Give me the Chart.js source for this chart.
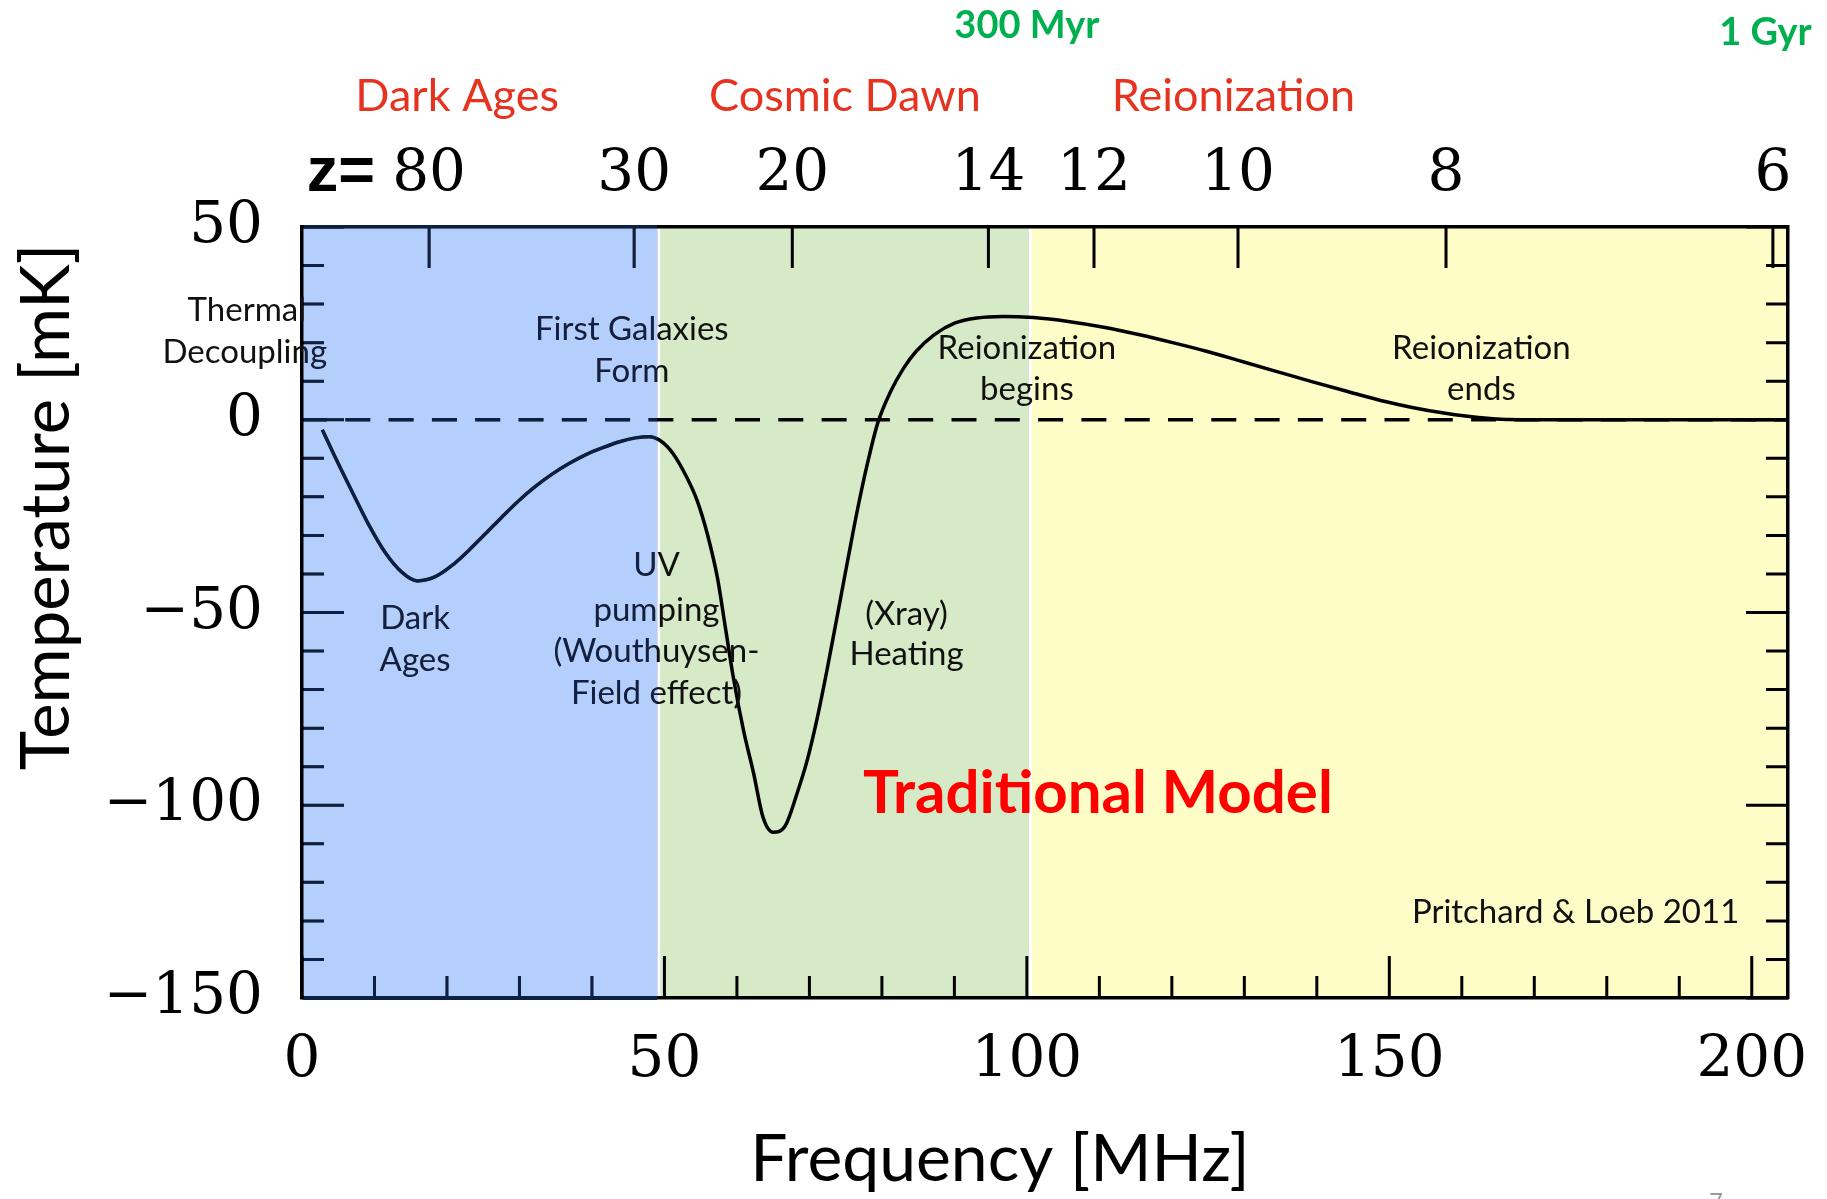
<!DOCTYPE html>
<html>
<head>
<meta charset="utf-8">
<script src="https://cdn.jsdelivr.net/npm/chart.js@4.4.1/dist/chart.umd.min.js"></script>
<style>
  html, body { margin: 0; padding: 0; background: #fff; }
  #wrap { width: 1827px; height: 1199px; }
</style>
</head>
<body>
<div id="wrap"><canvas id="chart" width="1827" height="1199"></canvas></div>
<script>
// 21-cm global signal: brightness temperature against observed frequency
const freqMHz = [2.8, 4.5, 6.9, 9.2, 11.5, 13.8, 15.9, 18.4, 20.7, 23.0, 25.3, 27.6, 29.9, 32.2,
  34.5, 36.9, 39.1, 41.4, 43.8, 46.0, 47.9, 49.5, 51.2, 53.1, 54.5, 55.9, 57.3, 58.4, 59.5,
  60.9, 62.3, 63.6, 65.0, 66.7, 68.3, 69.7, 71.1, 72.5, 73.8, 75.2, 76.6, 78.0, 79.4, 81.2,
  83.0, 84.7, 87.2, 90.1, 93.1, 96.7, 100.9, 105.7, 110.6, 115.4, 120.1, 124.9, 129.7, 134.5,
  139.3, 144.1, 148.8, 153.7, 157.3, 160.8, 163.9, 166.7, 170, 205];
const tempMK = [-2.6, -9.4, -18.6, -27.2, -34.5, -39.6, -41.8, -40.7, -37.8, -33.9, -29.6, -25.2, -21.0, -17.3,
  -14.1, -11.3, -9.1, -7.3, -5.7, -4.7, -4.4, -5.5, -8.8, -15.0, -20.9, -29.5, -40.9, -53.8, -66.8,
  -80.5, -91.7, -103.1, -107.0, -105.2, -96.9, -88.3, -77.2, -64.2, -51.3, -37.3, -23.6, -11.4, -1.0, 7.3,
  13.4, 17.7, 22.0, 25.1, 26.4, 26.8, 26.5, 25.5, 24.0, 22.1, 20.0, 17.7, 15.1, 12.5,
  9.9, 7.4, 5.0, 3.0, 1.8, 0.9, 0.35, 0.05, 0, 0];

// frame limits
const X_MIN = 0, X_MAX = 205;
const Y_MIN = -150, Y_MAX = 50;

// redshift ticks on the top axis (placed at the redshifted 21-cm frequency)
const redshifts = [80, 30, 20, 14, 12, 10, 8, 6];
const HI_LINE_MHZ = 1420.4;

// epoch shading
const epochEdges = [0, 49.2, 100.5, 205];
const epochColors = ['#b4cffb', '#d7eac8', '#fffdc7'];
const epochNames = ['Dark Ages', 'Cosmic Dawn', 'Reionization'];
const epochNameFreq = [21.4, 74.9, 128.5];

// cosmic age markers
const ageLabels = ['300 Myr', '1 Gyr'];
const ageLabelFreq = [100.0, 201.9];

// notes inside the frame, anchored in data units
const notes = [
  { text: 'Thermal', f: 0.55, t: 28.5, align: 'right' },
  { text: 'Decoupling', f: -7.9, t: 17.6 },
  { text: 'First Galaxies', f: 45.5, t: 23.4 },
  { text: 'Form', f: 45.5, t: 12.5 },
  { text: 'Reionization', f: 100.0, t: 18.5 },
  { text: 'begins', f: 100.0, t: 7.9 },
  { text: 'Reionization', f: 162.7, t: 18.5 },
  { text: 'ends', f: 162.7, t: 7.9 },
  { text: 'Dark', f: 15.6, t: -51.6 },
  { text: 'Ages', f: 15.6, t: -62.5 },
  { text: 'UV', f: 48.9, t: -37.9 },
  { text: 'pumping', f: 48.9, t: -49.5 },
  { text: '(Wouthuysen-', f: 48.9, t: -60.0 },
  { text: 'Field effect)', f: 48.9, t: -70.9 },
  { text: '(Xray)', f: 83.4, t: -50.4 },
  { text: 'Heating', f: 83.4, t: -60.9 },
  { text: 'Pritchard & Loeb 2011', f: 175.7, t: -127.7 }
];

const NAVY = '#0c2047';
const tickFont = { family: 'DejaVu Serif', size: 58 };

const fmtTemp = v => (v < 0 ? '\u2212' + Math.abs(v) : String(v));

function text(ctx, str, x, y, font, color, align) {
  ctx.font = font;
  ctx.fillStyle = color;
  ctx.textAlign = align || 'center';
  ctx.textBaseline = 'middle';
  ctx.fillText(str, x, y);
}

// fixed box sizes so the frame lands in the same place every time
function fixBox(size) {
  return s => {
    if (s.isHorizontal()) s.height = size; else s.width = size;
    s.paddingLeft = 0; s.paddingRight = 0; s.paddingTop = 0; s.paddingBottom = 0;
  };
}

// coloured epoch bands behind everything
const epochBands = {
  id: 'epochBands',
  beforeDraw(chart) {
    const { ctx, chartArea: a, scales: { x } } = chart;
    ctx.save();
    epochColors.forEach((c, i) => {
      let x0 = x.getPixelForValue(epochEdges[i]);
      let x1 = x.getPixelForValue(epochEdges[i + 1]);
      if (i > 0) x0 += 1.5;
      if (i < epochColors.length - 1) x1 -= 1.5;
      ctx.fillStyle = c;
      ctx.fillRect(x0, a.top, x1 - x0, a.bottom - a.top);
    });
    ctx.restore();
  }
};

// inward tick marks on all four sides, labels and notes, then the dark-ages tint
const frameDecor = {
  id: 'frameDecor',
  afterDraw(chart) {
    const { ctx, chartArea: a, scales } = chart;
    const { x, x2, y } = scales;
    ctx.save();
    ctx.strokeStyle = '#000';
    ctx.lineWidth = 3;
    ctx.beginPath();
    x.ticks.forEach(t => {
      const px = x.getPixelForValue(t.value);
      const len = t.value % 50 === 0 ? 42 : 22;
      ctx.moveTo(px, a.bottom);
      ctx.lineTo(px, a.bottom - len);
    });
    x2.ticks.forEach(t => {
      const px = x2.getPixelForValue(t.value);
      ctx.moveTo(px, a.top);
      ctx.lineTo(px, a.top + 41);
    });
    y.ticks.forEach(t => {
      const py = y.getPixelForValue(t.value);
      const len = t.value % 50 === 0 ? 42 : 22;
      ctx.moveTo(a.left, py);
      ctx.lineTo(a.left + len, py);
      ctx.moveTo(a.right, py);
      ctx.lineTo(a.right - len, py);
    });
    ctx.stroke();

    // "z=" prefix in front of the first redshift label
    const z0 = x2.getPixelForValue(x2.ticks[0].value);
    text(ctx, 'z=', z0 - 54, 174, 'bold 63px "Liberation Sans"', '#000', 'right');

    // epoch names and ages above the frame
    epochNames.forEach((n, i) => {
      text(ctx, n, x.getPixelForValue(epochNameFreq[i]), 96, '45px Lato', '#e53320');
    });
    text(ctx, ageLabels[0], x.getPixelForValue(ageLabelFreq[0]), 26, 'bold 38px Lato', '#00b050');
    text(ctx, ageLabels[1], x.getPixelForValue(ageLabelFreq[1]), 33, 'bold 38px Lato', '#00b050');

    notes.forEach(n => {
      text(ctx, n.text, x.getPixelForValue(n.f), y.getPixelForValue(n.t), '33px Lato', '#111', n.align);
    });

    // model name
    ctx.font = 'bold 60px Lato';
    ctx.fillStyle = '#ff0000';
    ctx.textAlign = 'center';
    ctx.textBaseline = 'alphabetic';
    ctx.fillText('Traditional Model', x.getPixelForValue(109.8), y.getPixelForValue(-101.9));

    // axis titles
    ctx.save();
    ctx.translate(47, 507);
    ctx.rotate(-Math.PI / 2);
    text(ctx, 'Temperature [mK]', 0, 0, '67px Lato', '#000');
    ctx.restore();
    text(ctx, 'Frequency [MHz]', 1000, 1160, '66px Lato', '#000');

    // slide number
    ctx.font = '24px Lato';
    ctx.fillStyle = '#9a9a9a';
    ctx.textAlign = 'center';
    ctx.textBaseline = 'top';
    ctx.fillText('7', 1716, 1190);

    // dark ink inside the blue band turns navy
    ctx.globalCompositeOperation = 'lighten';
    ctx.fillStyle = NAVY;
    const bx1 = x.getPixelForValue(epochEdges[1]) - 1.5;
    ctx.fillRect(a.left + 2, a.top - 2, bx1 - a.left - 2, a.bottom - a.top + 4);
    ctx.restore();
  }
};

new Chart(document.getElementById('chart'), {
  type: 'line',
  data: {
    datasets: [
      {
        label: 'T21',
        data: freqMHz.map((f, i) => ({ x: f, y: tempMK[i] })),
        borderColor: '#000',
        borderWidth: 3.5,
        pointRadius: 0,
        cubicInterpolationMode: 'monotone',
        fill: false
      },
      {
        label: 'zero',
        data: [{ x: X_MIN, y: 0 }, { x: X_MAX, y: 0 }],
        borderColor: '#000',
        borderWidth: 3.5,
        borderDash: [25, 18.3],
        pointRadius: 0,
        fill: false
      }
    ]
  },
  options: {
    responsive: false,
    animation: false,
    events: [],
    layout: { padding: 0 },
    plugins: { legend: { display: false }, tooltip: { enabled: false } },
    scales: {
      x: {
        type: 'linear', position: 'bottom', min: X_MIN, max: X_MAX,
        afterFit: fixBox(201),
        grid: { display: false, drawTicks: false },
        border: { display: true, color: '#000', width: 3.5 },
        ticks: {
          stepSize: 10, autoSkip: false, maxRotation: 0, includeBounds: false,
          padding: 28, color: '#000', font: tickFont,
          callback: v => (v % 50 === 0 ? String(v) : '')
        }
      },
      x2: {
        type: 'linear', position: 'top', min: X_MIN, max: X_MAX,
        afterFit: fixBox(227),
        afterBuildTicks: s => { s.ticks = redshifts.map(z => ({ value: HI_LINE_MHZ / (1 + z) })); },
        grid: { display: false, drawTicks: false },
        border: { display: true, color: '#000', width: 3.5 },
        ticks: {
          autoSkip: false, maxRotation: 0, padding: 17, color: '#000', font: tickFont,
          callback: (v, i) => String(redshifts[i])
        }
      },
      y: {
        type: 'linear', position: 'left', min: Y_MIN, max: Y_MAX,
        afterFit: fixBox(302),
        grid: { display: false, drawTicks: false },
        border: { display: true, color: '#000', width: 3.5 },
        ticks: {
          stepSize: 10, autoSkip: false, padding: 39, color: '#000', font: tickFont,
          callback: v => (v % 50 === 0 ? fmtTemp(v) : '')
        }
      },
      y2: {
        type: 'linear', position: 'right', min: Y_MIN, max: Y_MAX,
        afterFit: fixBox(39),
        grid: { display: false, drawTicks: false },
        border: { display: true, color: '#000', width: 3.5 },
        ticks: { display: false }
      }
    }
  },
  plugins: [epochBands, frameDecor]
});
</script>
</body>
</html>
